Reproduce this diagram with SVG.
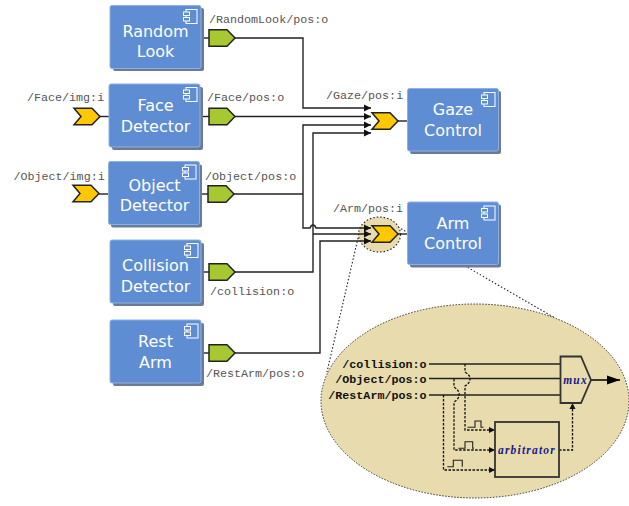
<svg xmlns="http://www.w3.org/2000/svg" width="629" height="506" viewBox="0 0 629 506">
<style>
.box{fill:#5f8dd3;stroke:#8fb0e3;stroke-width:1}
.shadow{fill:#6c7b95}
.name{font-family:"DejaVu Sans",sans-serif;font-size:16px;fill:#fff;text-anchor:middle}
.lab{font-family:"Liberation Mono",monospace;font-size:11.7px;fill:#555}
.blab{font-family:"Liberation Mono",monospace;font-size:11.7px;font-weight:bold;fill:#111;text-anchor:end}
.blk{font-family:"Liberation Serif",serif;font-size:11.5px;font-weight:bold;font-style:italic;fill:#1a1a8c;text-anchor:middle;letter-spacing:1.2px}
.out{fill:#a8c832;stroke:#222;stroke-width:1.5}
.in{fill:#ffc800;stroke:#222;stroke-width:1.5}
.w{fill:none;stroke:#222;stroke-width:1.4}
.d{fill:none;stroke:#111;stroke-width:1.3;stroke-dasharray:2.5 1.5}
.dot{fill:none;stroke:#222;stroke-width:1.1;stroke-dasharray:1.5 2}
.p{fill:none;stroke:#222;stroke-width:1.1}
.ic{fill:#5f8dd3;stroke:#fff;stroke-width:1}
</style>
<defs>
<marker id="ar" markerUnits="userSpaceOnUse" markerWidth="8" markerHeight="8" refX="7" refY="4" orient="auto"><path d="M0 .6L7 4L0 7.4z" fill="#111"/></marker>
<marker id="as" markerUnits="userSpaceOnUse" markerWidth="7" markerHeight="7" refX="6" refY="3.5" orient="auto"><path d="M0 .5L6 3.5L0 6.5z" fill="#111"/></marker>
<marker id="abig" markerUnits="userSpaceOnUse" markerWidth="14" markerHeight="10" refX="13" refY="5" orient="auto"><path d="M0 .5L13 5L0 9.5z" fill="#000"/></marker>
<g id="icon"><rect x="-10" y="0" width="11" height="14"/><rect x="-12.500" y="2.500" width="6" height="3.500"/><rect x="-12.500" y="8" width="6" height="3.500"/></g>
<path id="outp" d="M0 -8.300H18L26 0L18 8.300H0z"/>
<path id="inp" d="M0 -8.300H18L26 0L18 8.300H0L7 0z"/>
</defs>

<g id="detail-callout">
<line class="dot" x1="398" y1="227" x2="555" y2="318"/>
<line class="dot" x1="358" y1="238" x2="327" y2="372"/>
<ellipse cx="379.500" cy="234.500" rx="21" ry="17.500" fill="#e8dbad" stroke="#222" stroke-width="1.100" stroke-dasharray="1.500 2"/>
<ellipse cx="475" cy="401" rx="154" ry="97" fill="#e8dbad" stroke="#333" stroke-dasharray="1.500 1.500"/>
</g>

<g id="connectors">
<path class="w" d="M201 38H209"/>
<path class="w" d="M235 38H303V108H371" style="marker-end:url(#ar)"/>
<path class="w" d="M200 116.500H209"/>
<path class="w" d="M235 116.500H371" style="marker-end:url(#ar)"/>
<path class="w" d="M100 116.500H109"/>
<path class="w" d="M99 194H108"/>
<path class="w" d="M199 194H208"/>
<path class="w" d="M234 194H303"/>
<path class="w" d="M303 194V125H371" style="marker-end:url(#ar)"/>
<path class="w" d="M303 194V228H310Q311 225 313 225T316 228H371" style="marker-end:url(#ar)"/>
<path class="w" d="M201 272H209"/>
<path class="w" d="M235 272H313V133H371" style="marker-end:url(#ar)"/>
<path class="w" d="M313 234H371" style="marker-end:url(#ar)"/>
<path class="w" d="M201 353H209"/>
<path class="w" d="M235 353H320V241H371" style="marker-end:url(#ar)"/>
<path class="w" d="M398 121H407"/>
<path class="w" d="M398 234H407"/>
</g>

<g id="random-look"><rect class="shadow" x="113" y="8" width="91" height="63" rx="2"/><rect class="box" x="110" y="5.500" width="91" height="63" rx="2"/><use href="#icon" class="ic" x="196" y="9.500"/><text class="name" x="155.500" y="37">Random</text><text class="name" x="155.500" y="57">Look</text></g>
<g id="face-detector"><rect class="shadow" x="112" y="87" width="91" height="63" rx="2"/><rect class="box" x="109" y="84" width="91" height="63" rx="2"/><use href="#icon" class="ic" x="196" y="87.500"/><text class="name" x="155.500" y="111">Face</text><text class="name" x="155.500" y="132">Detector</text></g>
<g id="object-detector"><rect class="shadow" x="111" y="164.500" width="91" height="63" rx="2"/><rect class="box" x="108.500" y="161.500" width="91" height="63" rx="2"/><use href="#icon" class="ic" x="195" y="165"/><text class="name" x="154.500" y="191">Object</text><text class="name" x="154.500" y="211">Detector</text></g>
<g id="collision-detector"><rect class="shadow" x="113" y="243" width="91" height="63" rx="2"/><rect class="box" x="110" y="240" width="91" height="63" rx="2"/><use href="#icon" class="ic" x="197" y="243.500"/><text class="name" x="155.500" y="271">Collision</text><text class="name" x="155.500" y="292">Detector</text></g>
<g id="rest-arm"><rect class="shadow" x="113" y="323" width="91" height="63" rx="2"/><rect class="box" x="110" y="320" width="91" height="63" rx="2"/><use href="#icon" class="ic" x="197" y="324"/><text class="name" x="155.500" y="347">Rest</text><text class="name" x="155.500" y="368">Arm</text></g>
<g id="gaze-control"><rect class="shadow" x="410" y="91" width="91" height="63" rx="2"/><rect class="box" x="407.500" y="88.500" width="91" height="62.500" rx="2"/><use href="#icon" class="ic" x="494" y="92.500"/><text class="name" x="453" y="115">Gaze</text><text class="name" x="453" y="136">Control</text></g>
<g id="arm-control"><rect class="shadow" x="410" y="204.500" width="91" height="63" rx="2"/><rect class="box" x="407.500" y="202" width="91" height="62.500" rx="2"/><use href="#icon" class="ic" x="494" y="206"/><text class="name" x="453" y="229">Arm</text><text class="name" x="453" y="249">Control</text></g>

<g id="ports">
<use href="#outp" class="out" x="209" y="38"/>
<use href="#outp" class="out" x="209" y="116.500"/>
<use href="#outp" class="out" x="208" y="194"/>
<use href="#outp" class="out" x="209" y="272"/>
<use href="#outp" class="out" x="209" y="353"/>
<use href="#inp" class="in" x="74" y="116.500"/>
<use href="#inp" class="in" x="73" y="193.500"/>
<use href="#inp" class="in" x="372" y="121"/>
<use href="#inp" class="in" x="372" y="234"/>
</g>

<g id="port-labels">
<text class="lab" x="209" y="23">/RandomLook/pos:o</text>
<text class="lab" x="207" y="101">/Face/pos:o</text>
<text class="lab" x="205" y="180">/Object/pos:o</text>
<text class="lab" x="210" y="295">/collision:o</text>
<text class="lab" x="206" y="377">/RestArm/pos:o</text>
<text class="lab" x="27" y="101">/Face/img:i</text>
<text class="lab" x="13.500" y="180">/Object/img:i</text>
<text class="lab" x="326" y="99">/Gaze/pos:i</text>
<text class="lab" x="333" y="212">/Arm/pos:i</text>
</g>

<g id="detail-connectors">
<path class="w" d="M429 364H561"/>
<path class="w" d="M429 378.500H561"/>
<path class="w" d="M429 395H561"/>
<path class="w" d="M591 380H620" style="stroke-width:1.800;marker-end:url(#abig)"/>
<path class="d" d="M465 364V372Q471 376 470 379Q470 383 465 386V430H495" style="marker-end:url(#as)"/>
<path class="d" d="M454 379V387Q460 391 459 395Q459 399 454 402V450H495" style="marker-end:url(#as)"/>
<path class="d" d="M443.500 395V470H495" style="marker-end:url(#as)"/>
<path class="d" d="M559 450H572.500V403" style="marker-end:url(#as)"/>
<path class="p" d="M467.500 427.300H475V421H481V427.300H483.500"/>
<path class="p" d="M458.300 448.300H465V441.700H472.700V448.300H474"/>
<path class="p" d="M447.300 466.700H453.300V460.300H462.300V466.700"/>
</g>

<g id="mux"><path d="M560.500 356.500H581L591 380L581 403H560.500z" fill="#e8dbad" stroke="#333" stroke-width="1.800"/><text class="blk" x="575.500" y="384">mux</text></g>
<g id="arbitrator"><rect x="495" y="422" width="64" height="55" fill="#e8dbad" stroke="#333" stroke-width="1.800"/><text class="blk" x="527" y="454">arbitrator</text></g>
<g id="detail-labels">
<text class="blab" x="426.500" y="367.500">/collision:o</text>
<text class="blab" x="426.500" y="382.500">/Object/pos:o</text>
<text class="blab" x="426.500" y="398.500">/RestArm/pos:o</text>
</g>
</svg>
